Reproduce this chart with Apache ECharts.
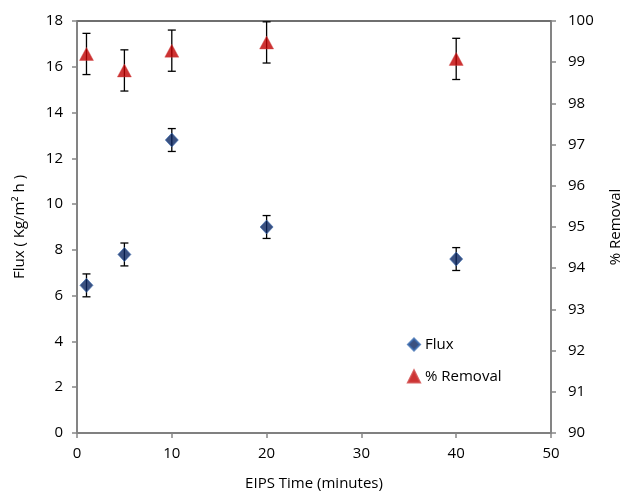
<!DOCTYPE html>
<html><head><meta charset="utf-8">
<script src="https://cdn.jsdelivr.net/npm/echarts@6/dist/echarts.min.js"></script>
<style>html,body{margin:0;padding:0;background:#fff}#c{width:625px;height:493px}</style>
</head><body><div id="c"></div>
<script>
var times = [1, 5, 10, 20, 40];
var flux = [6.45, 7.8, 12.8, 9.0, 7.6];
var fluxErr = [0.5, 0.5, 0.5, 0.5, 0.5];
var removal = [99.2, 98.8, 99.28, 99.48, 99.08];
var removalErr = [0.5, 0.5, 0.5, 0.5, 0.5];

var chart = echarts.init(document.getElementById('c'));
var font = '"Open Sans", "Liberation Sans", sans-serif';

function errData(vals, errs) {
  return times.map(function (t, i) { return [t, vals[i] - errs[i], vals[i] + errs[i]]; });
}
function errRender(params, api) {
  var x = api.value(0);
  var lo = api.coord([x, api.value(1)]);
  var hi = api.coord([x, api.value(2)]);
  var w = 4;
  var st = { stroke: '#000', lineWidth: 1.3 };
  return {
    type: 'group',
    children: [
      { type: 'line', shape: { x1: lo[0], y1: lo[1], x2: hi[0], y2: hi[1] }, style: st },
      { type: 'line', shape: { x1: lo[0] - w, y1: lo[1], x2: lo[0] + w, y2: lo[1] }, style: st },
      { type: 'line', shape: { x1: hi[0] - w, y1: hi[1], x2: hi[0] + w, y2: hi[1] }, style: st }
    ]
  };
}

var axisLineStyle = { color: '#868686', width: 1.5 };
var fs = 15;
chart.setOption({
  animation: false,
  textStyle: { fontFamily: font },
  grid: { left: 77, right: 74, top: 21, bottom: 60, containLabel: false, outerBoundsMode: 'none',
          show: true, borderColor: '#404040', borderWidth: 1.3 },
  legend: {
    orient: 'vertical', left: 402, top: 332, itemGap: 17, itemWidth: 12, itemHeight: 12,
    textStyle: { fontSize: fs, color: '#000', fontFamily: font },
    data: [{ name: 'Flux', icon: 'diamond' }, { name: '% Removal', icon: 'triangle' }]
  },
  xAxis: {
    type: 'value', min: 0, max: 50, interval: 10,
    name: 'EIPS Time (minutes)', nameLocation: 'middle', nameGap: 43,
    nameTextStyle: { fontSize: fs, color: '#000' },
    axisLine: { lineStyle: axisLineStyle },
    axisTick: { show: true, length: 5, lineStyle: axisLineStyle },
    axisLabel: { fontSize: fs, color: '#000', margin: 13 },
    splitLine: { show: false }
  },
  yAxis: [{
    type: 'value', min: 0, max: 18, interval: 2,
    name: 'Flux ( Kg/m\u00b2 h )', nameLocation: 'middle', nameGap: 50, nameRotate: 90,
    nameTextStyle: { fontSize: fs, color: '#000' },
    axisLine: { show: true, lineStyle: axisLineStyle },
    axisTick: { show: true, length: 5, lineStyle: axisLineStyle },
    axisLabel: { fontSize: fs, color: '#000', margin: 14 },
    splitLine: { show: false }
  }, {
    type: 'value', min: 90, max: 100, interval: 1, position: 'right',
    name: '% Removal', nameLocation: 'middle', nameGap: 57, nameRotate: 90,
    nameTextStyle: { fontSize: fs, color: '#000' },
    axisLine: { show: true, lineStyle: axisLineStyle },
    axisTick: { show: true, length: 5, lineStyle: axisLineStyle },
    axisLabel: { fontSize: fs, color: '#000', margin: 17 },
    splitLine: { show: false }
  }],
  series: [
    { type: 'custom', name: 'fluxErr', yAxisIndex: 0, renderItem: errRender, data: errData(flux, fluxErr), z: 1, silent: true },
    { type: 'custom', name: 'remErr', yAxisIndex: 1, renderItem: errRender, data: errData(removal, removalErr), z: 1, silent: true },
    {
      type: 'scatter', name: 'Flux', yAxisIndex: 0, symbol: 'diamond', symbolSize: [13, 14],
      itemStyle: { color: '#0A2560', borderColor: '#3A6BB0', borderWidth: 0.8 },
      data: times.map(function (t, i) { return [t, flux[i]]; }), z: 3
    },
    {
      type: 'scatter', name: '% Removal', yAxisIndex: 1, symbol: 'triangle', symbolSize: [14, 13],
      itemStyle: { color: '#C00000', borderColor: '#D04040', borderWidth: 0.5 },
      data: times.map(function (t, i) { return [t, removal[i]]; }), z: 3
    }
  ]
});
</script></body></html>
